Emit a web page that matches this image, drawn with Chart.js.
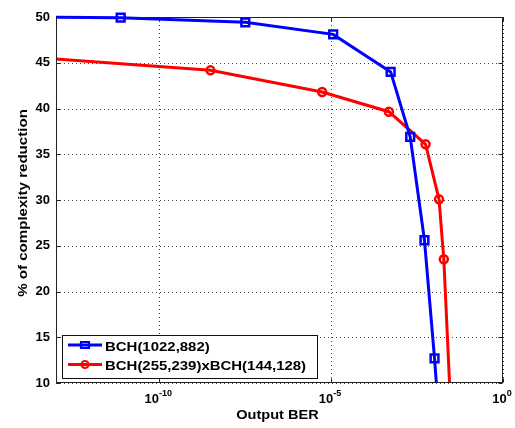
<!DOCTYPE html>
<html><head><meta charset="utf-8">
<script src="https://cdn.jsdelivr.net/npm/chart.js@4/dist/chart.umd.min.js"></script>
<style>html,body{margin:0;padding:0;background:#fff}#wrap{width:515px;height:428px;position:relative}</style>
</head><body><div id="wrap"><canvas id="c" width="515" height="428"></canvas></div>
<script>
// ---- data ----
const seriesNames = ['BCH(1022,882)', 'BCH(255,239)xBCH(144,128)'];
const blueBER = [1e-14, 7.6e-12, 3.2e-8, 1.15e-5, 5.4e-4, 2.0e-3, 5.2e-3, 1.02e-2, 1.26e-2];
const blueReduction = [49.98, 49.92, 49.42, 48.1, 44.0, 36.9, 25.6, 12.7, 8];
const redBER = [1e-14, 3.1e-9, 5.5e-6, 4.8e-4, 5.6e-3, 1.38e-2, 1.9e-2, 2.95e-2];
const redReduction = [45.67, 44.17, 41.8, 39.65, 36.09, 30.07, 23.52, 8];
const xTickValues = [1e-10, 1e-5, 1];
const xTickExponents = ['-10', '-5', '0'];
const xTitle = 'Output BER';
const yTitle = '% of complexity reduction';

const FONT = '"Liberation Sans", Arial, sans-serif';

function stretchText(ctx, text, x, y, sx, align, baseline) {
  ctx.save();
  ctx.translate(x, y);
  ctx.scale(sx, 1);
  ctx.textAlign = align;
  ctx.textBaseline = baseline || 'alphabetic';
  ctx.fillText(text, 0, 0);
  ctx.restore();
}

const decor = {
  id: 'decor',
  beforeDatasetsDraw(chart) {
    const ctx = chart.ctx, ca = chart.chartArea;
    const xs = chart.scales.x, ys = chart.scales.y;
    ctx.save();
    ctx.strokeStyle = '#444';
    ctx.lineWidth = 1;
    ctx.setLineDash([1, 3]);
    ys.ticks.forEach(t => {
      const y = Math.round(ys.getPixelForValue(t.value)) + 0.5;
      ctx.beginPath(); ctx.moveTo(ca.left, y); ctx.lineTo(ca.right, y); ctx.stroke();
    });
    xs.ticks.forEach(t => {
      const x = Math.round(xs.getPixelForValue(t.value)) + 0.5;
      ctx.beginPath(); ctx.moveTo(x, ca.top); ctx.lineTo(x, ca.bottom); ctx.stroke();
    });
    ctx.restore();
  },
  afterDraw(chart) {
    const ctx = chart.ctx, ca = chart.chartArea;
    const xs = chart.scales.x, ys = chart.scales.y;
    ctx.save();
    // box
    const L = Math.round(ca.left) + 0.5, R = Math.round(ca.right) - 0.5;
    const T = Math.round(ca.top) + 0.5, B = Math.round(ca.bottom) - 0.5;
    ctx.strokeStyle = '#222';
    ctx.lineWidth = 1;
    ctx.setLineDash([]);
    ctx.strokeRect(L, T, R - L, B - T);
    // inward ticks
    const tl = 4;
    ys.ticks.forEach(t => {
      const y = Math.round(ys.getPixelForValue(t.value)) + 0.5;
      ctx.beginPath(); ctx.moveTo(L, y); ctx.lineTo(L + tl, y);
      ctx.moveTo(R, y); ctx.lineTo(R - tl, y); ctx.stroke();
    });
    xs.ticks.forEach(t => {
      const x = Math.round(xs.getPixelForValue(t.value)) + 0.5;
      ctx.beginPath(); ctx.moveTo(x, B); ctx.lineTo(x, B - tl);
      ctx.moveTo(x, T); ctx.lineTo(x, T + tl); ctx.stroke();
    });
    // x tick labels 10^e
    ctx.fillStyle = '#000';
    xs.ticks.forEach((t, i) => {
      const x = xs.getPixelForValue(t.value);
      const e = xTickExponents[i];
      ctx.font = 'bold 13px ' + FONT;
      const wb = ctx.measureText('10').width;
      ctx.font = 'bold 9px ' + FONT;
      const we = ctx.measureText(e).width;
      const start = x - (wb + we) / 2 - 1;
      ctx.font = 'bold 13px ' + FONT;
      ctx.textAlign = 'left'; ctx.textBaseline = 'alphabetic';
      ctx.fillText('10', start, ca.bottom + 19.5);
      ctx.font = 'bold 9px ' + FONT;
      ctx.fillText(e, start + wb, ca.bottom + 12.5);
    });
    // titles
    ctx.font = 'bold 13px ' + FONT;
    stretchText(ctx, xTitle, (ca.left + ca.right) / 2 - 2, ca.bottom + 35.5, 1.12, 'center');
    ctx.save();
    ctx.translate(23, (ca.top + ca.bottom) / 2 + 3);
    ctx.rotate(-Math.PI / 2);
    stretchText(ctx, yTitle, 0, 0, 1.16, 'center', 'middle');
    ctx.restore();
    // legend
    const lx = ca.left + 6, ly = ca.bottom - 48, lw = 255, lh = 43;
    ctx.fillStyle = '#fff';
    ctx.fillRect(lx, ly, lw, lh);
    ctx.strokeStyle = '#111';
    ctx.lineWidth = 1;
    ctx.strokeRect(Math.round(lx) + 0.5, Math.round(ly) + 0.5, lw, lh);
    chart.data.datasets.forEach((ds, i) => {
      const y = ly + 10 + i * 19.5;
      ctx.strokeStyle = ds.borderColor;
      ctx.lineWidth = 3;
      ctx.beginPath(); ctx.moveTo(lx + 6, y); ctx.lineTo(lx + 40, y); ctx.stroke();
      ctx.lineWidth = 2.2;
      ctx.beginPath();
      if (ds.pointStyle === 'rect') ctx.rect(lx + 23 - 4, y - 3, 8, 6);
      else ctx.arc(lx + 23, y, 3.5, 0, Math.PI * 2);
      ctx.stroke();
      ctx.fillStyle = '#000';
      ctx.font = 'bold 13px ' + FONT;
      stretchText(ctx, ds.label, lx + 43, y + 2, 1.15, 'left', 'middle');
    });
    ctx.restore();
  }
};

new Chart(document.getElementById('c').getContext('2d'), {
  type: 'line',
  data: {
    datasets: [
      {
        label: seriesNames[0],
        data: blueBER.map((x, i) => ({ x: x, y: blueReduction[i] })),
        borderColor: '#0000ff', borderWidth: 3,
        pointStyle: 'rect', pointRadius: 5.5, pointBorderWidth: 2.5,
        pointBackgroundColor: 'rgba(0,0,0,0)', pointBorderColor: '#0000ff',
        tension: 0, clip: { left: 0, right: 0, top: 8, bottom: 0 }
      },
      {
        label: seriesNames[1],
        data: redBER.map((x, i) => ({ x: x, y: redReduction[i] })),
        borderColor: '#ff0000', borderWidth: 3,
        pointStyle: 'circle', pointRadius: 4, pointBorderWidth: 2.5,
        pointBackgroundColor: 'rgba(0,0,0,0)', pointBorderColor: '#ff0000',
        tension: 0, clip: { left: 0, right: 0, top: 8, bottom: 0 }
      }
    ]
  },
  options: {
    responsive: false,
    animation: false,
    layout: { padding: { top: 17, right: 12, left: 0, bottom: 0 } },
    plugins: { legend: { display: false }, tooltip: { enabled: false } },
    scales: {
      x: {
        type: 'logarithmic', min: 1e-13, max: 1,
        grid: { display: false }, border: { display: false },
        ticks: { display: false },
        afterBuildTicks: s => { s.ticks = xTickValues.map(v => ({ value: v })); },
        afterFit: s => { s.height = 45; }
      },
      y: {
        min: 10, max: 50,
        ticks: { stepSize: 5, color: '#000', padding: 6, font: { family: FONT, size: 13, weight: 'bold' } },
        grid: { display: false, drawTicks: false }, border: { display: false },
        afterFit: s => { s.width = 56; }
      }
    }
  },
  plugins: [decor]
});
</script>
</body></html>
